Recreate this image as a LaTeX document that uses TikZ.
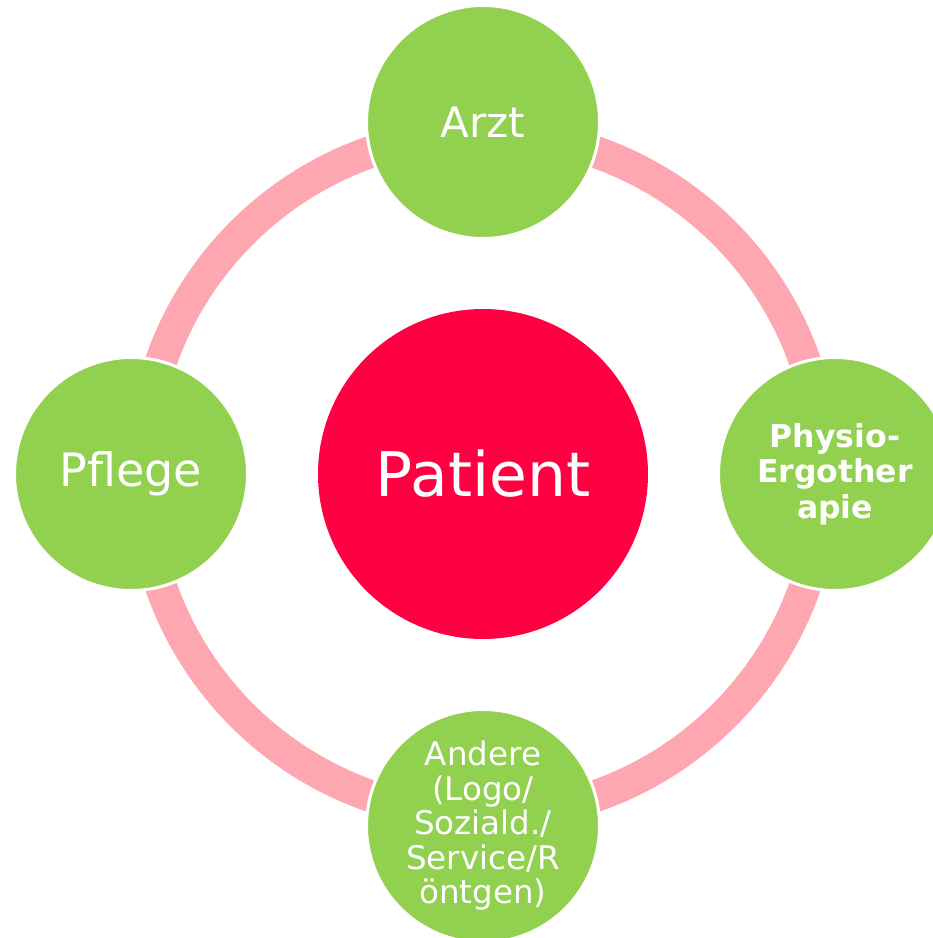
\documentclass[tikz,border=0pt]{standalone}
\usepackage{fontspec}
\setmainfont{DejaVu Sans}
\usetikzlibrary{positioning}

\definecolor{ringpink}{RGB}{255,167,176}
\definecolor{rolegreen}{RGB}{146,208,80}
\definecolor{patientred}{RGB}{255,0,66}

\begin{document}
\begin{tikzpicture}[x=1pt,y=1pt,
    on grid, node distance=352pt,
    role/.style={circle, fill=rolegreen, draw=white, line width=3pt,
        minimum size=233pt, inner sep=0pt, text=white, align=center},
    centre/.style={circle, fill=patientred, minimum size=330pt,
        inner sep=0pt, text=white, font=\fontsize{61.5}{70}\selectfont},
    ring/.style={draw=ringpink, line width=32pt}]
% Fix the page to the size of the reference
\useasboundingbox (-483,-464) rectangle (450,474);
\clip (-483,-464) rectangle (450,474);
% The patient sits in the middle
\node[centre] (patient) at (0,0) {Patient};
% The pink ring goes behind the outer circles
\draw[ring] (patient.center) circle[radius=341];
% Now the four roles round the patient
\node[role, above=of patient, font=\fontsize{42}{48}\selectfont] (arzt) {Arzt};
\node[role, left=of patient, font=\fontsize{46}{52}\selectfont] (pflege) {Pflege};
\node[role, right=of patient, font=\fontsize{31.5}{35.5}\selectfont\bfseries]
    (physio) {Physio-\\Ergother\\apie};
\node[role, below=of patient, font=\fontsize{32.5}{34.5}\selectfont]
    (andere) {Andere\\(Logo/\\Soziald./\\Service/R\\öntgen)};
\end{tikzpicture}
\end{document}
